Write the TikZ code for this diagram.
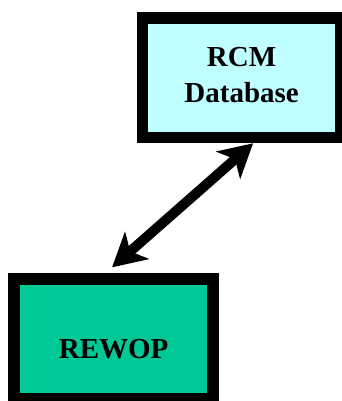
\documentclass[tikz,border=0pt]{standalone}
\usepackage{fontspec}
\setmainfont{Liberation Serif}
\usetikzlibrary{arrows.meta,positioning}

\definecolor{dbcyan}{RGB}{192,255,255}
\definecolor{opgreen}{RGB}{0,200,150}

\begin{document}
\begin{tikzpicture}[x=1pt,y=1pt,
        box/.style={draw,line width=11.5pt,rectangle,align=center,
                    font=\bfseries\fontsize{29}{36}\selectfont},
        link/.style={{Stealth[length=33pt,width=36pt,inset=9pt]}-{Stealth[length=33pt,width=36pt,inset=9pt]},line width=10pt}]

                \useasboundingbox (0,0) rectangle (342,401);

                \node[box,fill=dbcyan,minimum width=198pt,minimum height=119.5pt,text depth=6pt] (rcm) at (241.6,323.2) {RCM\\Database};

                \node[box,fill=opgreen,minimum width=199pt,minimum height=120pt,text height=39pt] (rewop) [below left=130pt and -82pt of rcm] {REWOP};

                \draw[link] ([xshift=-1.5pt,yshift=6pt]rewop.north) -- ([xshift=11.5pt]rcm.south);

            \end{tikzpicture}
\end{document}
